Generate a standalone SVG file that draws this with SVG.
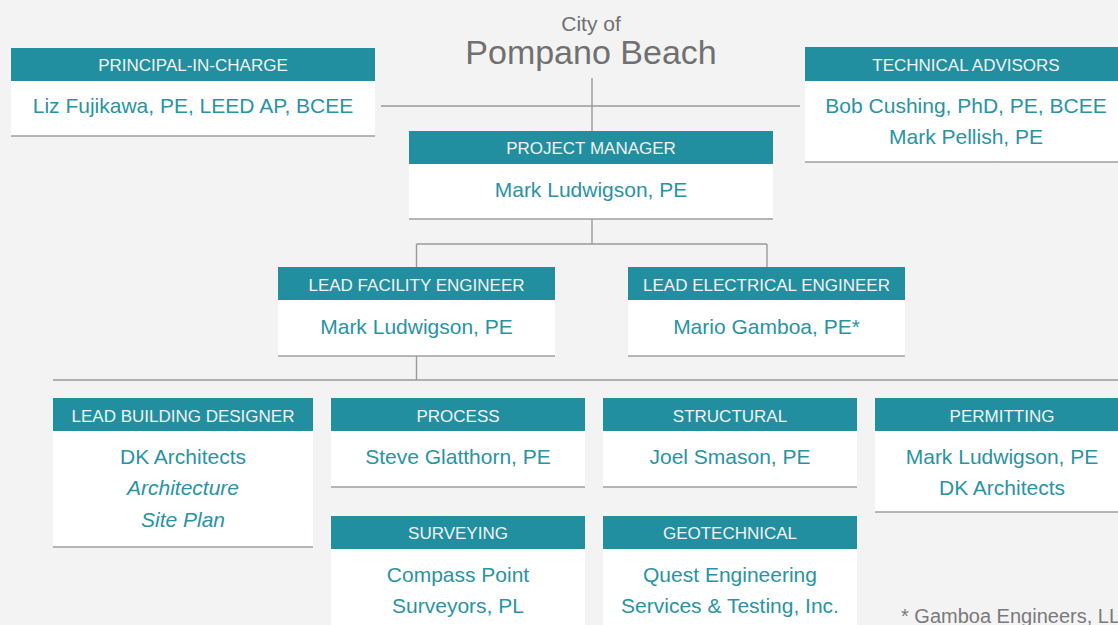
<svg xmlns="http://www.w3.org/2000/svg" width="1118" height="625" viewBox="0 0 1118 625">
  <style>
    .hdr { fill: #218f9f; }
    .body { fill: #ffffff; }
    .rule { stroke: #9f9f9f; stroke-width: 1.6; }
    .conn { stroke: #9a9a9a; stroke-width: 1.4; fill: none; }
    .htxt { font-family: "Liberation Sans", Arial, sans-serif; font-size: 17px; fill: #f2f2f2; text-anchor: middle; }
    .btxt { font-family: "Liberation Sans", Arial, sans-serif; font-size: 21px; fill: #2a93a3; text-anchor: middle; }
    .it { font-style: italic; }
    .title { font-family: "Liberation Sans", Arial, sans-serif; fill: #707070; text-anchor: middle; }
    .note { font-family: "Liberation Sans", Arial, sans-serif; font-size: 20px; fill: #7a7a7a; }
  </style>

  <rect x="0" y="0" width="1118" height="625" fill="#f3f3f3"/>

  <!-- connectors -->
  <g id="connectors">
    <line class="conn" x1="592" y1="78" x2="592" y2="131"/>
    <line class="conn" x1="381" y1="106" x2="800" y2="106"/>
    <line class="conn" x1="592" y1="219" x2="592" y2="244"/>
    <line class="conn" x1="416.5" y1="244" x2="767" y2="244"/>
    <line class="conn" x1="416.5" y1="244" x2="416.5" y2="267"/>
    <line class="conn" x1="767" y1="244" x2="767" y2="267"/>
    <line class="conn" x1="416.5" y1="356" x2="416.5" y2="380"/>
    <line class="conn" x1="53" y1="380" x2="1118" y2="380"/>
  </g>

  <!-- client -->
  <g id="client">
    <text class="title" x="591" y="31" font-size="21">City of</text>
    <text class="title" x="591" y="64" font-size="34">Pompano Beach</text>
  </g>

  <g id="principal">
    <rect class="body" x="11" y="81" width="364" height="55"/>
    <rect class="hdr" x="11" y="48" width="364" height="33"/>
    <line class="rule" x1="11" y1="136" x2="375" y2="136"/>
    <text class="htxt" x="193" y="71">PRINCIPAL-IN-CHARGE</text>
    <text class="btxt" x="193" y="113">Liz Fujikawa, PE, LEED AP, BCEE</text>
  </g>

  <g id="technical-advisors">
    <rect class="body" x="805" y="81" width="322" height="81"/>
    <rect class="hdr" x="805" y="47" width="322" height="34"/>
    <line class="rule" x1="805" y1="162" x2="1127" y2="162"/>
    <text class="htxt" x="966" y="71">TECHNICAL ADVISORS</text>
    <text class="btxt" x="966" y="113">Bob Cushing, PhD, PE, BCEE</text>
    <text class="btxt" x="966" y="144">Mark Pellish, PE</text>
  </g>

  <g id="project-manager">
    <rect class="body" x="409" y="164" width="364" height="55"/>
    <rect class="hdr" x="409" y="131" width="364" height="33"/>
    <line class="rule" x1="409" y1="219" x2="773" y2="219"/>
    <text class="htxt" x="591" y="154">PROJECT MANAGER</text>
    <text class="btxt" x="591" y="197">Mark Ludwigson, PE</text>
  </g>

  <g id="lead-facility-engineer">
    <rect class="body" x="278" y="300" width="277" height="56"/>
    <rect class="hdr" x="278" y="267" width="277" height="33"/>
    <line class="rule" x1="278" y1="356" x2="555" y2="356"/>
    <text class="htxt" x="416.5" y="291">LEAD FACILITY ENGINEER</text>
    <text class="btxt" x="416.5" y="334">Mark Ludwigson, PE</text>
  </g>

  <g id="lead-electrical-engineer">
    <rect class="body" x="628" y="300" width="277" height="56"/>
    <rect class="hdr" x="628" y="267" width="277" height="33"/>
    <line class="rule" x1="628" y1="356" x2="905" y2="356"/>
    <text class="htxt" x="766.5" y="291">LEAD ELECTRICAL ENGINEER</text>
    <text class="btxt" x="766.5" y="334">Mario Gamboa, PE*</text>
  </g>

  <g id="lead-building-designer">
    <rect class="body" x="53" y="431" width="260" height="116"/>
    <rect class="hdr" x="53" y="398" width="260" height="33"/>
    <line class="rule" x1="53" y1="547" x2="313" y2="547"/>
    <text class="htxt" x="183" y="422">LEAD BUILDING DESIGNER</text>
    <text class="btxt" x="183" y="464">DK Architects</text>
    <text class="btxt it" x="183" y="495">Architecture</text>
    <text class="btxt it" x="183" y="527">Site Plan</text>
  </g>

  <g id="process">
    <rect class="body" x="331" y="431" width="254" height="56"/>
    <rect class="hdr" x="331" y="398" width="254" height="33"/>
    <line class="rule" x1="331" y1="487" x2="585" y2="487"/>
    <text class="htxt" x="458" y="422">PROCESS</text>
    <text class="btxt" x="458" y="464">Steve Glatthorn, PE</text>
  </g>

  <g id="structural">
    <rect class="body" x="603" y="431" width="254" height="56"/>
    <rect class="hdr" x="603" y="398" width="254" height="33"/>
    <line class="rule" x1="603" y1="487" x2="857" y2="487"/>
    <text class="htxt" x="730" y="422">STRUCTURAL</text>
    <text class="btxt" x="730" y="464">Joel Smason, PE</text>
  </g>

  <g id="permitting">
    <rect class="body" x="875" y="431" width="254" height="81"/>
    <rect class="hdr" x="875" y="398" width="254" height="33"/>
    <line class="rule" x1="875" y1="512" x2="1129" y2="512"/>
    <text class="htxt" x="1002" y="422">PERMITTING</text>
    <text class="btxt" x="1002" y="464">Mark Ludwigson, PE</text>
    <text class="btxt" x="1002" y="495">DK Architects</text>
  </g>

  <g id="surveying">
    <rect class="body" x="331" y="549" width="254" height="90"/>
    <rect class="hdr" x="331" y="516" width="254" height="33"/>
    <text class="htxt" x="458" y="539">SURVEYING</text>
    <text class="btxt" x="458" y="582">Compass Point</text>
    <text class="btxt" x="458" y="613">Surveyors, PL</text>
  </g>

  <g id="geotechnical">
    <rect class="body" x="603" y="549" width="254" height="90"/>
    <rect class="hdr" x="603" y="516" width="254" height="33"/>
    <text class="htxt" x="730" y="539">GEOTECHNICAL</text>
    <text class="btxt" x="730" y="582">Quest Engineering</text>
    <text class="btxt" x="730" y="613">Services &amp; Testing, Inc.</text>
  </g>

  <g id="footnote">
    <text class="note" x="901" y="623">* Gamboa Engineers, LLC</text>
  </g>
</svg>
